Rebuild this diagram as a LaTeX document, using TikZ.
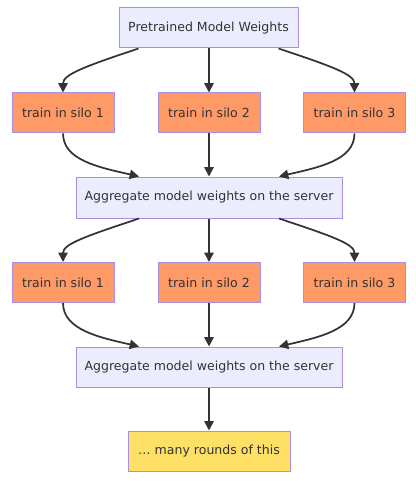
\documentclass[tikz,border=0pt]{standalone}
\usepackage{fontspec}
\setmainfont{DejaVu Sans}
\usetikzlibrary{arrows.meta}
\definecolor{lav}{HTML}{ECECFF}
\definecolor{lavline}{HTML}{AA8FE0}
\definecolor{silofill}{HTML}{FF9966}
\definecolor{morefill}{HTML}{FFE066}
\definecolor{ink}{HTML}{333333}
\tikzset{x=0.75pt,y=-0.75pt,
    every node/.style={font=\fontsize{9.4}{11}\selectfont,text=ink,inner sep=0pt},
    plainbox/.style={draw=lavline,line width=0.75pt,fill=lav,minimum height=30pt},
    silobox/.style={plainbox,fill=silofill,minimum width=76.5pt},
    morebox/.style={plainbox,fill=morefill,minimum width=121.5pt},
    flow/.style={draw=ink,line width=1.3pt,-{Triangle[length=7pt,width=7pt]}},
    }
\begin{document}
\begin{tikzpicture}
\useasboundingbox (0,0) rectangle (415,481);
\node[plainbox,minimum width=134.25pt] (pre) at (208.5,28) {Pretrained Model Weights};
\node[silobox] (a1) at (63,113) {train in silo 1};
\node[silobox] (a2) at (209,113) {train in silo 2};
\node[silobox] (a3) at (354.5,113) {train in silo 3};
\node[plainbox,minimum width=199.5pt,minimum height=30.75pt] (agg1) at (209,197.5) {Aggregate model weights on the server};
\node[silobox] (b1) at (63,282.5) {train in silo 1};
\node[silobox] (b2) at (209,282.5) {train in silo 2};
\node[silobox] (b3) at (354.5,282.5) {train in silo 3};
\node[plainbox,minimum width=199.5pt] (agg2) at (209,367) {Aggregate model weights on the server};
\node[morebox] (more) at (209,451) {\ldots{} many rounds of this};

% first round
\draw[flow] ([xshift=-52.5pt]pre.south) .. controls +(-54,18) and +(0,-18) .. (a1.north);
\draw[flow] (pre.south -| a2) -- (a2.north);
\draw[flow] ([xshift=52.5pt]pre.south) .. controls +(54,18) and +(0,-18) .. (a3.north);
\draw[flow] (a1.south) .. controls +(0,27) and +(-39,-9) .. ([xshift=-52.5pt]agg1.north);
\draw[flow] (a2.south) -- (agg1.north);
\draw[flow] (a3.south) .. controls +(0,27) and +(39,-9) .. ([xshift=52.5pt]agg1.north);
% second round
\draw[flow] ([xshift=-52.5pt]agg1.south) .. controls +(-54,18) and +(0,-18) .. (b1.north);
\draw[flow] (agg1.south) -- (b2.north);
\draw[flow] ([xshift=52.5pt]agg1.south) .. controls +(54,18) and +(0,-18) .. (b3.north);
\draw[flow] (b1.south) .. controls +(0,27) and +(-39,-9) .. ([xshift=-52.5pt]agg2.north);
\draw[flow] (b2.south) -- (agg2.north);
\draw[flow] (b3.south) .. controls +(0,27) and +(39,-9) .. ([xshift=52.5pt]agg2.north);
\draw[flow] (agg2.south) -- (more.north);
\end{tikzpicture}
\end{document}
